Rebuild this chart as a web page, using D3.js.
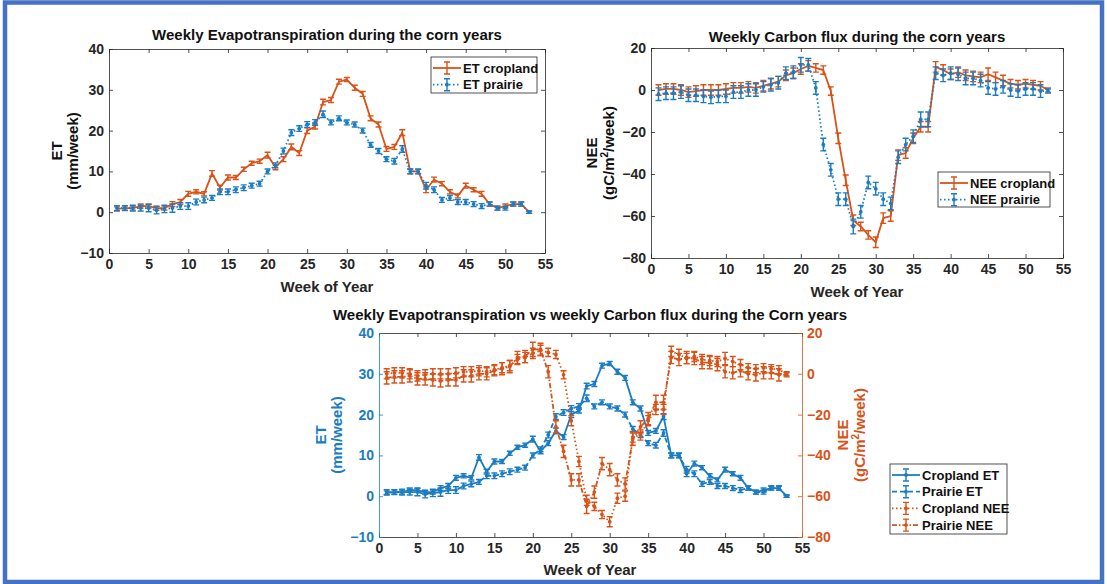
<!DOCTYPE html>
<html>
<head>
<meta charset="utf-8">
<script src="https://cdn.jsdelivr.net/npm/d3@7"></script>
<style>
body { margin: 0; background: #fff; }
svg text { font-family: "Liberation Sans", Arial, Helvetica, sans-serif; font-weight: bold; }
</style>
</head>
<body>
<div id="chart"></div>
<script>

var weeks = d3.range(1, 54);

// weekly ET (mm/week)
var etCrop = [0.8,1,1,1.5,1.5,1,1,2,2.5,4.5, 5,4.5,9.5,6,8.5,8.5,10.5,12,12.5,14,
  11,13,16,14.5,20,21,27,27.5,32,32.5, 30.5,29,23,21.5,15.5,16,19.5,10,10,5.5,
  8,7,5,4,6.5,5.5,4.5,2,1,1.5, 2,2,0];
var etCropErr = [0.5,0.5,0.5,0.5,0.5,0.5,0.5,0.6,0.6,0.6, 0.5,0.5,0.7,0.6,0.6,0.5,0.5,0.5,0.5,0.7,
  0.6,0.6,0.7,0.6,0.7,0.6,0.7,0.6,0.6,0.5, 0.6,0.6,0.6,0.6,0.6,0.6,0.7,0.6,0.5,0.7,
  0.6,0.5,0.5,0.5,0.6,0.5,0.6,0.5,0.5,0.5, 0.5,0.5,0.3];
var etPrairie = [1,1,1,1,1,0.5,0.8,1,1.5,1.5, 2.5,3,3.5,5,5,5.5,6,6.5,7,10,
  11.5,15,19.5,20.5,21.5,22,24,22,23,22, 21.5,20,16.5,15,13,12.5,15.5,10,10,6.5,
  5.5,3,3.5,2.5,2.5,2,1.5,2,1,1, 2,2,0];
var etPrairieErr = [0.6,0.6,0.7,0.7,0.9,0.9,0.9,1.0,0.8,0.8, 0.7,0.7,0.6,0.7,0.7,0.7,0.7,0.6,0.6,0.6,
  0.6,0.7,0.7,0.7,0.7,0.7,0.8,0.6,0.6,0.6, 0.6,0.6,0.6,0.6,0.6,0.7,0.8,0.6,0.6,0.8,
  0.7,0.6,0.6,0.6,0.6,0.6,0.6,0.5,0.5,0.5, 0.5,0.5,0.3];

// weekly NEE (gC/m2/week)
var neeCrop = [0,0.5,0.5,0,-1,-0.5,0,0,0,0.5, 1,1,1.5,1,2,3,4,7,8,10,
  11.5,10.5,9.5,-0.5,-23,-43,-62,-65,-69,-72.5, -61,-60,-31,-30,-23,-17.5,-17.5,11,9.5,7.5,
  8.5,7,6.5,6,7.5,6,4.5,3,2.5,3, 2.5,2,0];
var neeCropErr = [2.5,2.5,2.5,2.5,2.5,2.5,2.5,2.5,2.5,2.5, 2.5,2.5,2.5,2.5,2.5,2.5,2.5,2.5,2.5,2.5,
  2.5,2,2,2,2.5,2.5,2.5,2,2,2.5, 2.5,2.5,2.5,2.5,2.5,2.5,2.5,2.5,2.5,2.5,
  2.5,2.5,2.5,2.5,3,2.5,2.5,2,2,2, 2,2,1];
var neePrairie = [-2,-1.5,-1.5,-1,-2.5,-2.5,-3,-3.5,-3,-3, -1,-1,0,0,1.5,2.5,3.5,8,8.5,12,
  12,1,-26,-38,-52,-52,-65,-58,-44,-47, -52,-54,-32,-26,-22,-14,-14,8,7,8,
  7.5,5.5,5.5,4.5,1,0.5,1.5,0,-0.5,0.5, 0.5,-0.5,-0.5];
var neePrairieErr = [3,3,3,3,3,3,3,3,3,3, 3,3,3,3,2.5,3,3,3,3,3.5,
  3,3,3,3,3,3,3.5,3,3,3, 3,3,3,3,3,3.5,3.5,3,3,3,
  3,3,3,3,3,3,3,3,3,3, 3,3,1];

var xTicks = [0,5,10,15,20,25,30,35,40,45,50,55];
var etTicks = [-10,0,10,20,30,40];
var neeTicks = [-80,-60,-40,-20,0,20];

var blue = "#1a7dc3", orange = "#d95319", dark = "#262626";

var svg = d3.select("#chart").append("svg")
  .attr("width", 1107)
  .attr("height", 584);

svg.append("rect")
  .attr("x", 5).attr("y", 2.5)
  .attr("width", 1097).attr("height", 579.5)
  .attr("fill", "none")
  .attr("stroke", "#4472c4")
  .attr("stroke-width", 4.5);

function styleAxis(g, color, showText) {
  g.attr("font-family", null).attr("font-size", 14);
  g.select(".domain").attr("stroke", color).attr("stroke-width", 0.8);
  g.selectAll(".tick line").attr("stroke", color).attr("stroke-width", 0.8);
  g.selectAll(".tick text").attr("fill", color);
  if (!showText) g.selectAll(".tick text").remove();
}

function axes(x, y, yTicks, colL, colR, labelR) {
  var x0 = x.range()[0], x1 = x.range()[1];
  var y0 = y.range()[0], y1 = y.range()[1];
  styleAxis(svg.append("g").attr("transform", "translate(0," + y0 + ")")
    .call(d3.axisBottom(x).tickValues(xTicks).tickSizeInner(-4).tickSizeOuter(0).tickPadding(6)), dark, true);
  styleAxis(svg.append("g").attr("transform", "translate(0," + y1 + ")")
    .call(d3.axisTop(x).tickValues(xTicks).tickSizeInner(-4).tickSizeOuter(0)), dark, false);
  styleAxis(svg.append("g").attr("transform", "translate(" + x0 + ",0)")
    .call(d3.axisLeft(y).tickValues(yTicks).tickSizeInner(-4).tickSizeOuter(0).tickPadding(5)), colL, true);
  return svg.append("g").attr("transform", "translate(" + x1 + ",0)")
    .call(d3.axisRight(labelR ? labelR : y).tickValues(labelR ? neeTicks : yTicks).tickSizeInner(-4).tickSizeOuter(0).tickPadding(5))
    .call(function(g){ styleAxis(g, colR, !!labelR); });
}

function series(x, y, vals, errs, color, dash, dots) {
  var data = weeks.map(function(w, i) { return {w: w, v: vals[i], e: errs[i]}; });
  var g = svg.append("g");
  var line = d3.line()
    .x(function(d) { return x(d.w); })
    .y(function(d) { return y(d.v); });
  g.append("path").datum(data)
    .attr("d", line)
    .attr("fill", "none")
    .attr("stroke", color)
    .attr("stroke-width", 1.8)
    .attr("stroke-dasharray", dash);
  g.selectAll(".eb").data(data).enter().append("path")
    .attr("class", "eb")
    .attr("d", function(d) {
      var cx = x(d.w), ya = y(d.v - d.e), yb = y(d.v + d.e);
      return "M" + (cx - 3) + "," + ya + "H" + (cx + 3) +
        "M" + cx + "," + ya + "V" + yb +
        "M" + (cx - 3) + "," + yb + "H" + (cx + 3);
    })
    .attr("fill", "none")
    .attr("stroke", color)
    .attr("stroke-width", 1.4);
  if (dots) {
    g.selectAll(".dot").data(data).enter().append("circle")
      .attr("class", "dot")
      .attr("cx", function(d) { return x(d.w); })
      .attr("cy", function(d) { return y(d.v); })
      .attr("r", 1.9)
      .attr("fill", color);
  }
}

function legend(x, y, w, h, items) {
  var g = svg.append("g").attr("transform", "translate(" + x + "," + y + ")");
  g.append("rect").attr("width", w).attr("height", h)
    .attr("fill", "#fff").attr("stroke", dark).attr("stroke-width", 0.8);
  items.forEach(function(it, i) {
    var cy = 11 + i * 16.7;
    g.append("line").attr("x1", 2).attr("x2", 30).attr("y1", cy).attr("y2", cy)
      .attr("stroke", it.color).attr("stroke-width", 1.8).attr("stroke-dasharray", it.dash);
    g.append("path")
      .attr("d", "M13," + (cy - 6) + "H19M16," + (cy - 6) + "V" + (cy + 6) + "M13," + (cy + 6) + "H19")
      .attr("stroke", it.color).attr("stroke-width", 1.4).attr("fill", "none");
    if (it.dot) g.append("circle").attr("cx", 16).attr("cy", cy).attr("r", 1.9).attr("fill", it.color);
    g.append("text").attr("x", 32).attr("y", cy + 4.6)
      .attr("font-size", 13).attr("fill", "#111").text(it.label);
  });
}

function title(x, y, txt) {
  svg.append("text").attr("x", x).attr("y", y).attr("text-anchor", "middle")
    .attr("font-size", 15).attr("fill", "#111").text(txt);
}

function xlabel(x, y) {
  svg.append("text").attr("x", x).attr("y", y).attr("text-anchor", "middle")
    .attr("font-size", 15).attr("fill", dark).text("Week of Year");
}

function ylabel(y, color, lines) {
  lines.forEach(function(l) {
    var t = svg.append("text")
      .attr("transform", "translate(" + l.x + "," + y + ") rotate(-90)")
      .attr("text-anchor", "middle")
      .attr("font-size", 15)
      .attr("fill", color);
    if (l.sup) {
      t.append("tspan").text("(gC/m");
      t.append("tspan").attr("dy", -6).attr("font-size", 10).text("2");
      t.append("tspan").attr("dy", 6).text("/week)");
    } else {
      t.text(l.text);
    }
  });
}

// ---- top left: ET
var x1 = d3.scaleLinear().domain([0, 55]).range([109, 545]);
var y1 = d3.scaleLinear().domain([-10, 40]).range([253, 49]);
axes(x1, y1, etTicks, dark, dark);
series(x1, y1, etCrop, etCropErr, orange, null, false);
series(x1, y1, etPrairie, etPrairieErr, blue, "1.5,2.5", true);
title(327, 40, "Weekly Evapotranspiration during the corn years");
xlabel(327, 292);
ylabel(151, "#111", [{x: 62, text: "ET"}, {x: 78, text: "(mm/week)"}]);
legend(431, 57, 106, 36, [
  {label: "ET cropland", color: orange, dash: null, dot: false},
  {label: "ET prairie", color: blue, dash: "1.5,2.5", dot: true}
]);

// ---- top right: NEE
var x2 = d3.scaleLinear().domain([0, 55]).range([651, 1063]);
var y2 = d3.scaleLinear().domain([-80, 20]).range([258, 48]);
axes(x2, y2, neeTicks, dark, dark);
series(x2, y2, neeCrop, neeCropErr, orange, null, false);
series(x2, y2, neePrairie, neePrairieErr, blue, "1.5,2.5", true);
title(857, 42, "Weekly Carbon flux during the corn years");
xlabel(857, 297);
ylabel(153, "#111", [{x: 597, text: "NEE"}, {x: 614, sup: true}]);
legend(938, 172, 112, 35, [
  {label: "NEE cropland", color: orange, dash: null, dot: false},
  {label: "NEE prairie", color: blue, dash: "1.5,2.5", dot: true}
]);

// ---- bottom: ET vs NEE
var x3 = d3.scaleLinear().domain([0, 55]).range([379, 802]);
var y3 = d3.scaleLinear().domain([-10, 40]).range([537, 333]);
var y3r = d3.scaleLinear().domain([-80, 20]).range([537, 333]);
axes(x3, y3, etTicks, blue, orange, y3r);
series(x3, y3, etCrop, etCropErr, blue, null, true);
series(x3, y3, etPrairie, etPrairieErr, blue, "5,3", true);
series(x3, y3r, neeCrop, neeCropErr, orange, "1.5,2.5", true);
series(x3, y3r, neePrairie, neePrairieErr, orange, "5,2,1.5,2", true);
title(590, 320, "Weekly Evapotranspiration vs weekly Carbon flux during the Corn years");
xlabel(590, 575);
ylabel(435, blue, [{x: 326, text: "ET"}, {x: 342, text: "(mm/week)"}]);
ylabel(435, orange, [{x: 848, text: "NEE"}, {x: 865, sup: true}]);
legend(890, 464, 117, 70, [
  {label: "Cropland ET", color: blue, dash: null, dot: true},
  {label: "Prairie ET", color: blue, dash: "5,3", dot: true},
  {label: "Cropland NEE", color: orange, dash: "1.5,2.5", dot: true},
  {label: "Prairie NEE", color: orange, dash: "5,2,1.5,2", dot: true}
]);

</script>
</body>
</html>
